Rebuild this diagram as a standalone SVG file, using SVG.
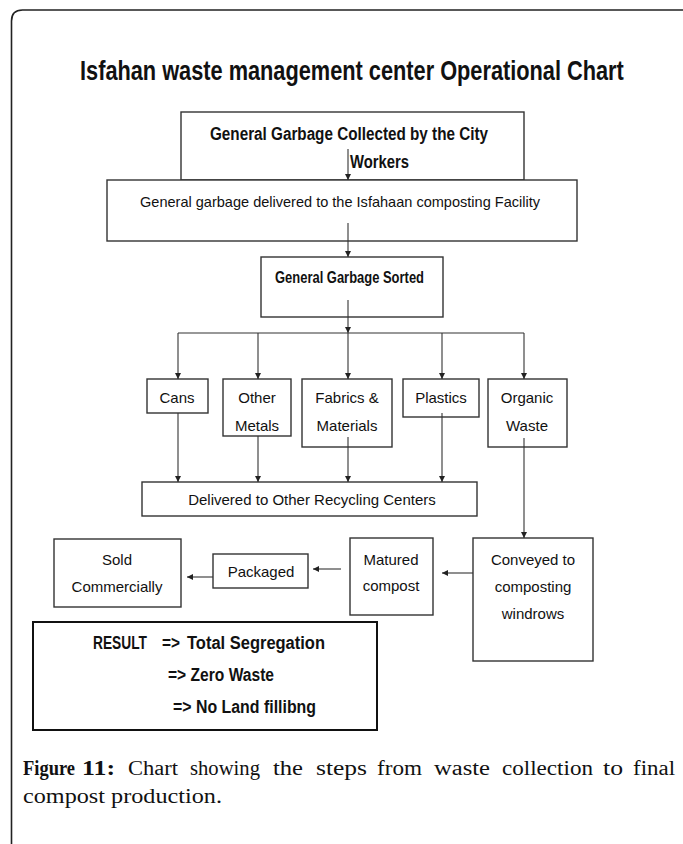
<svg xmlns="http://www.w3.org/2000/svg" width="683" height="844" viewBox="0 0 683 844">
<style>
.box{fill:#fff;stroke:#333;stroke-width:1.4}
.res{fill:#fff;stroke:#111;stroke-width:2}
.lbl{font-family:"Liberation Sans",Arial,sans-serif;font-size:15px;fill:#111;text-anchor:middle}
.bold{font-family:"Liberation Sans",Arial,sans-serif;font-weight:bold;fill:#111}
.con{fill:none;stroke:#333;stroke-width:1.1}
.cap{font-family:"Liberation Serif","Times New Roman",serif;font-size:20px;fill:#111}
</style>
<defs>
<marker id="ah" markerWidth="7" markerHeight="7" refX="6" refY="3" orient="auto" markerUnits="userSpaceOnUse">
<path d="M0,0 L6,3 L0,6 z" fill="#222"/>
</marker>
</defs>
<rect width="683" height="844" fill="#fff"/>
<path d="M11.5,844 V21 Q11.5,10 22.5,10 H683" fill="none" stroke="#222" stroke-width="1.6"/>
<text class="bold" font-size="28" transform="translate(80,80) scale(0.777,1)">Isfahan waste management center Operational Chart</text>

<g id="collected">
<rect class="box" x="181" y="112" width="343" height="68"/>
<text class="bold" x="210" y="140" font-size="18" textLength="278" lengthAdjust="spacingAndGlyphs">General Garbage Collected by the City</text>
<text class="bold" x="350" y="168" font-size="18" textLength="59" lengthAdjust="spacingAndGlyphs">Workers</text>
</g>
<g id="delivered-facility">
<rect class="box" x="107" y="180" width="470" height="61"/>
<text class="lbl" x="340" y="207" textLength="400" lengthAdjust="spacingAndGlyphs">General garbage delivered to the Isfahaan composting Facility</text>
</g>
<g id="sorted">
<rect class="box" x="261" y="257" width="182" height="60"/>
<text class="bold" x="275" y="283" font-size="17" textLength="149" lengthAdjust="spacingAndGlyphs">General Garbage Sorted</text>
</g>
<g id="cans">
<rect class="box" x="147" y="379" width="61" height="34"/>
<text class="lbl" x="177" y="403">Cans</text>
</g>
<g id="metals">
<rect class="box" x="223" y="379" width="68" height="57"/>
<text class="lbl" x="257" y="403">Other</text>
<text class="lbl" x="257" y="431">Metals</text>
</g>
<g id="fabrics">
<rect class="box" x="302" y="379" width="90" height="68"/>
<text class="lbl" x="347" y="403">Fabrics &amp;</text>
<text class="lbl" x="347" y="431">Materials</text>
</g>
<g id="plastics">
<rect class="box" x="403" y="379" width="76" height="38"/>
<text class="lbl" x="441" y="403">Plastics</text>
</g>
<g id="organic">
<rect class="box" x="488" y="379" width="79" height="68"/>
<text class="lbl" x="527" y="403">Organic</text>
<text class="lbl" x="527" y="431">Waste</text>
</g>
<g id="recycling">
<rect class="box" x="142" y="482" width="335" height="34"/>
<text class="lbl" x="312" y="505">Delivered to Other Recycling Centers</text>
</g>
<g id="conveyed">
<rect class="box" x="473" y="538" width="120" height="123"/>
<text class="lbl" x="533" y="565">Conveyed to</text>
<text class="lbl" x="533" y="592">composting</text>
<text class="lbl" x="533" y="619">windrows</text>
</g>
<g id="matured">
<rect class="box" x="350" y="538" width="83" height="77"/>
<text class="lbl" x="391" y="565">Matured</text>
<text class="lbl" x="391" y="591">compost</text>
</g>
<g id="packaged">
<rect class="box" x="213" y="554" width="95" height="34"/>
<text class="lbl" x="261" y="577">Packaged</text>
</g>
<g id="sold">
<rect class="box" x="54" y="539" width="127" height="68"/>
<text class="lbl" x="117" y="565">Sold</text>
<text class="lbl" x="117" y="592">Commercially</text>
</g>
<g id="result">
<rect class="res" x="33" y="622" width="344" height="108"/>
<text class="bold" y="649" font-size="18"><tspan x="93" textLength="54" lengthAdjust="spacingAndGlyphs">RESULT</tspan><tspan x="162" textLength="18" lengthAdjust="spacingAndGlyphs">=&gt;</tspan><tspan x="187" textLength="138" lengthAdjust="spacingAndGlyphs">Total Segregation</tspan></text>
<text class="bold" x="168" y="681" font-size="18" textLength="106" lengthAdjust="spacingAndGlyphs">=&gt; Zero Waste</text>
<text class="bold" x="173" y="713" font-size="18" textLength="143" lengthAdjust="spacingAndGlyphs">=&gt; No Land fillibng</text>
</g>

<g id="connectors">
<line class="con" x1="348" y1="149" x2="348" y2="180" marker-end="url(#ah)"/>
<line class="con" x1="348" y1="223" x2="348" y2="257" marker-end="url(#ah)"/>
<line class="con" x1="348" y1="300" x2="348" y2="333" marker-end="url(#ah)"/>
<line class="con" x1="178" y1="333" x2="524" y2="333"/>
<line class="con" x1="178" y1="333" x2="178" y2="379" marker-end="url(#ah)"/>
<line class="con" x1="258" y1="333" x2="258" y2="379" marker-end="url(#ah)"/>
<line class="con" x1="348" y1="333" x2="348" y2="379" marker-end="url(#ah)"/>
<line class="con" x1="442" y1="333" x2="442" y2="379" marker-end="url(#ah)"/>
<line class="con" x1="524" y1="333" x2="524" y2="379" marker-end="url(#ah)"/>
<line class="con" x1="178" y1="413" x2="178" y2="482" marker-end="url(#ah)"/>
<line class="con" x1="258" y1="436" x2="258" y2="482" marker-end="url(#ah)"/>
<line class="con" x1="348" y1="437" x2="348" y2="482" marker-end="url(#ah)"/>
<line class="con" x1="442" y1="413" x2="442" y2="482" marker-end="url(#ah)"/>
<line class="con" x1="524" y1="438" x2="524" y2="538" marker-end="url(#ah)"/>
<line class="con" x1="473" y1="573" x2="442" y2="573" marker-end="url(#ah)"/>
<line class="con" x1="341" y1="569" x2="313" y2="569" marker-end="url(#ah)"/>
<line class="con" x1="213" y1="577" x2="187" y2="577" marker-end="url(#ah)"/>
</g>

<text class="cap" y="775"><tspan x="23" font-weight="bold" textLength="52" lengthAdjust="spacingAndGlyphs">Figure</tspan><tspan x="82" font-weight="bold" textLength="33" lengthAdjust="spacingAndGlyphs">11:</tspan><tspan x="128" textLength="50" lengthAdjust="spacingAndGlyphs">Chart</tspan><tspan x="190" textLength="70" lengthAdjust="spacingAndGlyphs">showing</tspan><tspan x="273" textLength="30" lengthAdjust="spacingAndGlyphs">the</tspan><tspan x="316" textLength="51" lengthAdjust="spacingAndGlyphs">steps</tspan><tspan x="377" textLength="45" lengthAdjust="spacingAndGlyphs">from</tspan><tspan x="434" textLength="56" lengthAdjust="spacingAndGlyphs">waste</tspan><tspan x="502" textLength="91" lengthAdjust="spacingAndGlyphs">collection</tspan><tspan x="603" textLength="20" lengthAdjust="spacingAndGlyphs">to</tspan><tspan x="633" textLength="42" lengthAdjust="spacingAndGlyphs">final</tspan></text>
<text class="cap" x="23" y="803" textLength="199" lengthAdjust="spacingAndGlyphs">compost production.</text>
</svg>
